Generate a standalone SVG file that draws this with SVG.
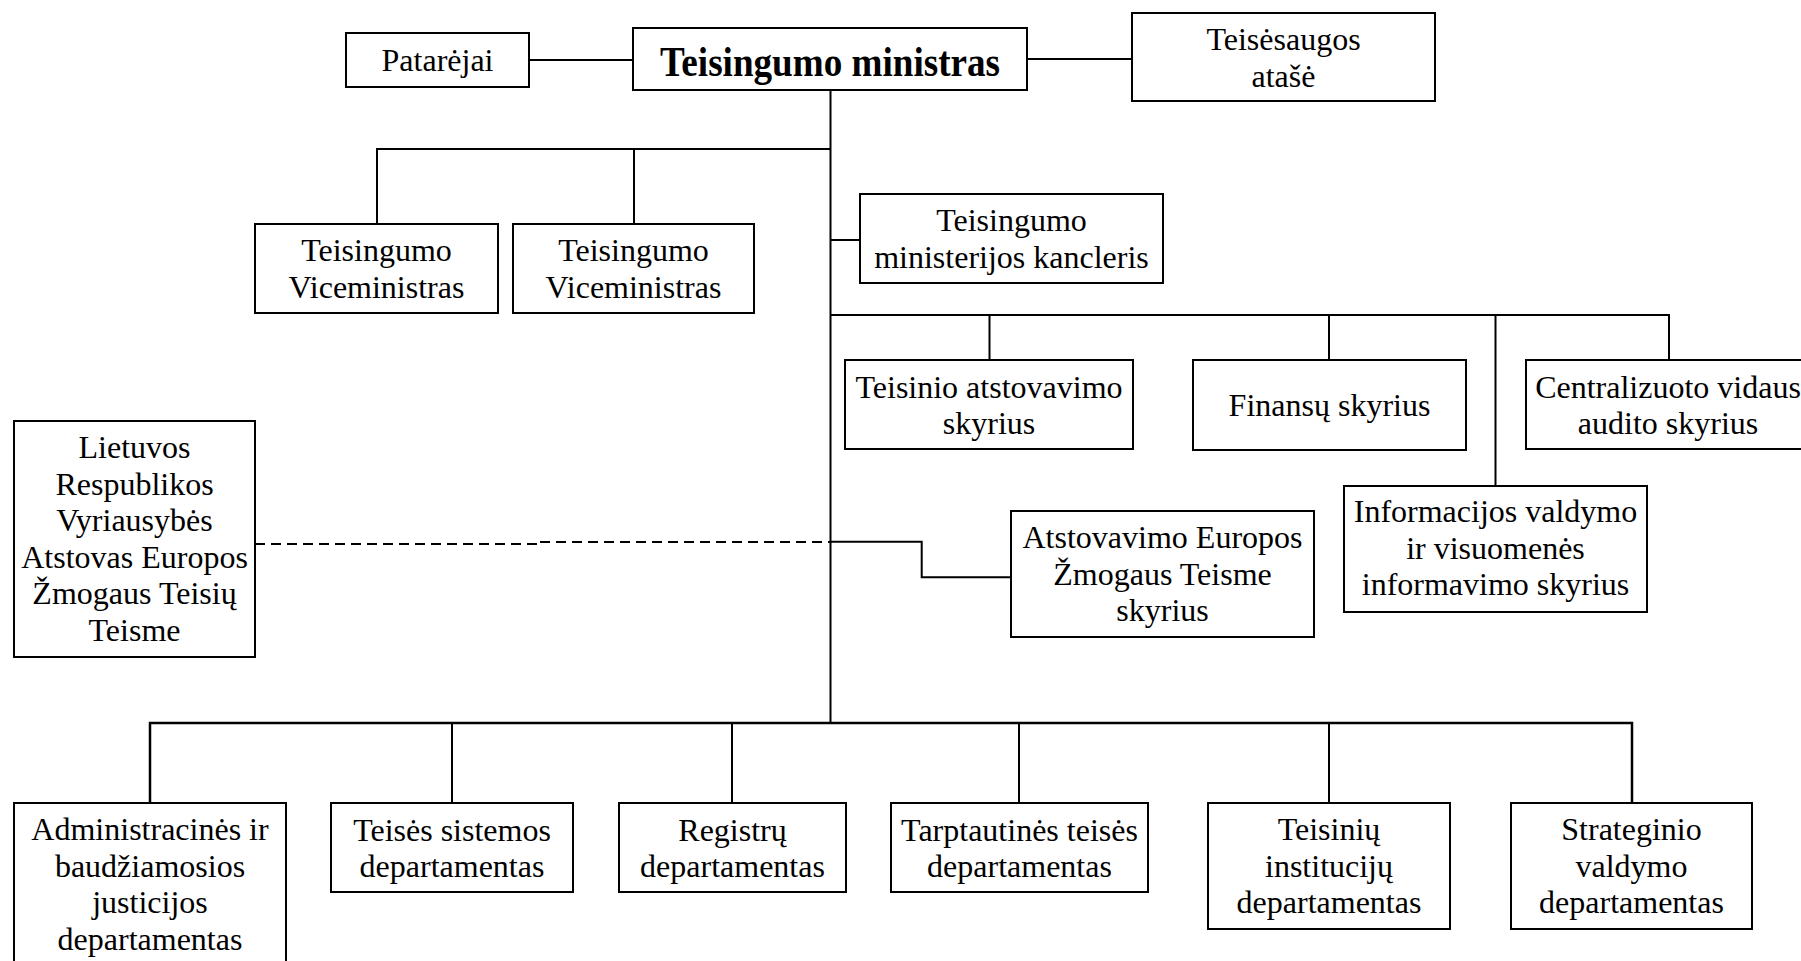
<svg xmlns="http://www.w3.org/2000/svg" width="1801" height="961" viewBox="0 0 1801 961">
  <style>
    .box { fill: #fff; stroke: #000; stroke-width: 2; }
    .link { fill: none; stroke: #000; stroke-width: 2; }
    .dash { fill: none; stroke: #000; stroke-width: 2; stroke-dasharray: 10 6; }
    text { font-family: "Liberation Serif", "Times New Roman", serif; font-size: 32px; fill: #000; text-anchor: middle; }
    .title { font-weight: bold; font-size: 42px; }
  </style>
  <rect width="1801" height="961" fill="#fff"/>

  <!-- connectors -->
  <g id="connectors">
    <line class="link" x1="529" y1="60" x2="633" y2="60"/>
    <line class="link" x1="1027" y1="59" x2="1132" y2="59"/>
    <line class="link" x1="830.5" y1="90" x2="830.5" y2="723"/>
    <!-- vice-ministers -->
    <polyline class="link" points="377,224 377,149 830.5,149"/>
    <line class="link" x1="634" y1="149" x2="634" y2="224"/>
    <!-- chancellor -->
    <line class="link" x1="830.5" y1="240" x2="860" y2="240"/>
    <!-- divisions -->
    <polyline class="link" points="830.5,315 1669,315 1669,360"/>
    <line class="link" x1="989.5" y1="315" x2="989.5" y2="360"/>
    <line class="link" x1="1329" y1="315" x2="1329" y2="360"/>
    <line class="link" x1="1495.5" y1="315" x2="1495.5" y2="486"/>
    <!-- European Court representation -->
    <polyline class="link" points="830.5,541.7 921.7,541.7 921.7,577.3 1011,577.3"/>
    <line class="dash" x1="255" y1="544" x2="540" y2="544"/>
    <line class="dash" x1="540" y1="542" x2="830" y2="542"/>
    <!-- departments -->
    <polyline class="link" points="150,803 150,723 1632,723 1632,803" style="stroke-width:2.5"/>
    <line class="link" x1="452" y1="723" x2="452" y2="803"/>
    <line class="link" x1="732" y1="723" x2="732" y2="803"/>
    <line class="link" x1="1019" y1="723" x2="1019" y2="803"/>
    <line class="link" x1="1329" y1="723" x2="1329" y2="803"/>
  </g>

  <g id="patarejai">
    <rect class="box" x="346" y="33" width="183" height="54"/>
    <text x="437.5" y="71">Patarėjai</text>
  </g>
  <g id="ministras">
    <rect class="box" x="633" y="28" width="394" height="62"/>
    <text class="title" x="830" y="76" textLength="340" lengthAdjust="spacingAndGlyphs">Teisingumo ministras</text>
  </g>
  <g id="atase">
    <rect class="box" x="1132" y="13" width="303" height="88"/>
    <text x="1283.5" y="49.5">Teisėsaugos</text>
    <text x="1283.5" y="86.5">atašė</text>
  </g>
  <g id="viceministras1">
    <rect class="box" x="255" y="224" width="243" height="89"/>
    <text x="376.5" y="261">Teisingumo</text>
    <text x="376.5" y="297.5">Viceministras</text>
  </g>
  <g id="viceministras2">
    <rect class="box" x="513" y="224" width="241" height="89"/>
    <text x="633.5" y="261">Teisingumo</text>
    <text x="633.5" y="297.5">Viceministras</text>
  </g>
  <g id="kancleris">
    <rect class="box" x="860" y="194" width="303" height="89"/>
    <text x="1011.5" y="231">Teisingumo</text>
    <text x="1011.5" y="267.5">ministerijos kancleris</text>
  </g>
  <g id="atstovavimo-skyrius">
    <rect class="box" x="845" y="360" width="288" height="89"/>
    <text x="989" y="397.5">Teisinio atstovavimo</text>
    <text x="989" y="434">skyrius</text>
  </g>
  <g id="finansu-skyrius">
    <rect class="box" x="1193" y="360" width="273" height="90"/>
    <text x="1329.5" y="416">Finansų skyrius</text>
  </g>
  <g id="audito-skyrius">
    <rect class="box" x="1526" y="360" width="284" height="89"/>
    <text x="1668" y="397.5">Centralizuoto vidaus</text>
    <text x="1668" y="434">audito skyrius</text>
  </g>
  <g id="informacijos-skyrius">
    <rect class="box" x="1344" y="486" width="303" height="126"/>
    <text x="1495.5" y="522">Informacijos valdymo</text>
    <text x="1495.5" y="558.5">ir visuomenės</text>
    <text x="1495.5" y="595">informavimo skyrius</text>
  </g>
  <g id="ezt-skyrius">
    <rect class="box" x="1011" y="511" width="303" height="126"/>
    <text x="1162.5" y="548">Atstovavimo Europos</text>
    <text x="1162.5" y="584.5">Žmogaus Teisme</text>
    <text x="1162.5" y="621">skyrius</text>
  </g>
  <g id="vyriausybes-atstovas">
    <rect class="box" x="14" y="421" width="241" height="236"/>
    <text x="134.5" y="458">Lietuvos</text>
    <text x="134.5" y="494.5">Respublikos</text>
    <text x="134.5" y="531">Vyriausybės</text>
    <text x="134.5" y="567.5">Atstovas Europos</text>
    <text x="134.5" y="604">Žmogaus Teisių</text>
    <text x="134.5" y="640.5">Teisme</text>
  </g>
  <g id="administracines-dep">
    <rect class="box" x="14" y="803" width="272" height="161"/>
    <text x="150" y="840">Administracinės ir</text>
    <text x="150" y="876.5">baudžiamosios</text>
    <text x="150" y="913">justicijos</text>
    <text x="150" y="949.5">departamentas</text>
  </g>
  <g id="teises-sistemos-dep">
    <rect class="box" x="331" y="803" width="242" height="89"/>
    <text x="452" y="840.5">Teisės sistemos</text>
    <text x="452" y="877">departamentas</text>
  </g>
  <g id="registru-dep">
    <rect class="box" x="619" y="803" width="227" height="89"/>
    <text x="732.5" y="840.5">Registrų</text>
    <text x="732.5" y="877">departamentas</text>
  </g>
  <g id="tarptautines-dep">
    <rect class="box" x="891" y="803" width="257" height="89"/>
    <text x="1019.5" y="840.5">Tarptautinės teisės</text>
    <text x="1019.5" y="877">departamentas</text>
  </g>
  <g id="institucijų-dep">
    <rect class="box" x="1208" y="803" width="242" height="126"/>
    <text x="1329" y="840">Teisinių</text>
    <text x="1329" y="876.5">institucijų</text>
    <text x="1329" y="913">departamentas</text>
  </g>
  <g id="strateginio-dep">
    <rect class="box" x="1511" y="803" width="241" height="126"/>
    <text x="1631.5" y="840">Strateginio</text>
    <text x="1631.5" y="876.5">valdymo</text>
    <text x="1631.5" y="913">departamentas</text>
  </g>
</svg>
